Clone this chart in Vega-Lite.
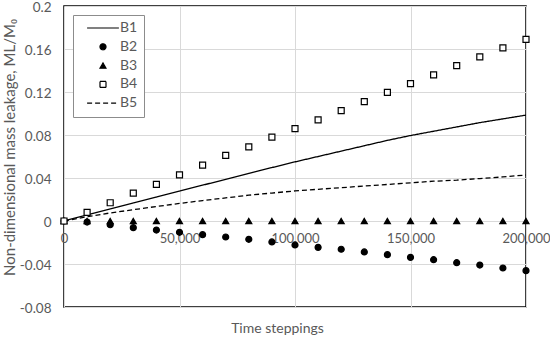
{
  "$schema": "https://vega.github.io/schema/vega-lite/v6.json",
  "width": 462,
  "height": 301,
  "autosize": "none",
  "padding": {"left": 64, "top": 6, "right": 24, "bottom": 30},
  "background": "white",
  "config": {
    "view": {"stroke": "black", "strokeWidth": 1.5},
    "font": "Lato",
    "axis": {"labelFont": "Lato", "titleFont": "Lato", "labelColor": "#595959", "titleColor": "#595959", "labelFontSize": 13.5, "titleFontSize": 14, "titleFontWeight": "normal", "gridColor": "#d9d9d9", "gridWidth": 1, "ticks": false, "domain": false},
    "legend": {"labelFont": "Lato", "labelFontSize": 14, "labelColor": "#595959", "title": null, "orient": "top-left", "offset": 9, "strokeColor": "#8c8c8c", "strokeWidth": 1, "padding": 6, "rowPadding": 4.8, "symbolOffset": 17, "labelOffset": 10, "symbolStrokeColor": "black", "symbolStrokeWidth": 1.2, "symbolSize": 36, "fillColor": "white"}
  },
  "data": {"values": [
    {"s":"B1","t":0,"v":0},{"s":"B1","t":10000,"v":0.0056},{"s":"B1","t":20000,"v":0.0112},{"s":"B1","t":30000,"v":0.0168},{"s":"B1","t":40000,"v":0.0223},{"s":"B1","t":50000,"v":0.0278},{"s":"B1","t":60000,"v":0.0333},{"s":"B1","t":70000,"v":0.0388},{"s":"B1","t":80000,"v":0.0443},{"s":"B1","t":90000,"v":0.0497},{"s":"B1","t":100000,"v":0.055},{"s":"B1","t":110000,"v":0.06},{"s":"B1","t":120000,"v":0.065},{"s":"B1","t":130000,"v":0.07},{"s":"B1","t":140000,"v":0.075},{"s":"B1","t":150000,"v":0.0795},{"s":"B1","t":160000,"v":0.0835},{"s":"B1","t":170000,"v":0.0875},{"s":"B1","t":180000,"v":0.0915},{"s":"B1","t":190000,"v":0.095},{"s":"B1","t":200000,"v":0.0985},
    {"s":"B5","t":0,"v":0},{"s":"B5","t":10000,"v":0.004},{"s":"B5","t":20000,"v":0.0075},{"s":"B5","t":30000,"v":0.0105},{"s":"B5","t":40000,"v":0.0135},{"s":"B5","t":50000,"v":0.0163},{"s":"B5","t":60000,"v":0.019},{"s":"B5","t":70000,"v":0.0215},{"s":"B5","t":80000,"v":0.024},{"s":"B5","t":90000,"v":0.026},{"s":"B5","t":100000,"v":0.028},{"s":"B5","t":110000,"v":0.0295},{"s":"B5","t":120000,"v":0.031},{"s":"B5","t":130000,"v":0.0325},{"s":"B5","t":140000,"v":0.034},{"s":"B5","t":150000,"v":0.0355},{"s":"B5","t":160000,"v":0.037},{"s":"B5","t":170000,"v":0.038},{"s":"B5","t":180000,"v":0.0395},{"s":"B5","t":190000,"v":0.041},{"s":"B5","t":200000,"v":0.0428},
    {"s":"B2","t":0,"v":0},{"s":"B2","t":10000,"v":-0.001},{"s":"B2","t":20000,"v":-0.0035},{"s":"B2","t":30000,"v":-0.0062},{"s":"B2","t":40000,"v":-0.0084},{"s":"B2","t":50000,"v":-0.0105},{"s":"B2","t":60000,"v":-0.0127},{"s":"B2","t":70000,"v":-0.0149},{"s":"B2","t":80000,"v":-0.017},{"s":"B2","t":90000,"v":-0.0195},{"s":"B2","t":100000,"v":-0.0223},{"s":"B2","t":110000,"v":-0.0245},{"s":"B2","t":120000,"v":-0.0263},{"s":"B2","t":130000,"v":-0.0288},{"s":"B2","t":140000,"v":-0.0313},{"s":"B2","t":150000,"v":-0.0338},{"s":"B2","t":160000,"v":-0.036},{"s":"B2","t":170000,"v":-0.0388},{"s":"B2","t":180000,"v":-0.041},{"s":"B2","t":190000,"v":-0.0437},{"s":"B2","t":200000,"v":-0.0462},
    {"s":"B3","t":0,"v":0},{"s":"B3","t":10000,"v":0},{"s":"B3","t":20000,"v":0},{"s":"B3","t":30000,"v":0},{"s":"B3","t":40000,"v":0},{"s":"B3","t":50000,"v":0},{"s":"B3","t":60000,"v":0},{"s":"B3","t":70000,"v":0},{"s":"B3","t":80000,"v":0},{"s":"B3","t":90000,"v":0},{"s":"B3","t":100000,"v":0},{"s":"B3","t":110000,"v":0},{"s":"B3","t":120000,"v":0},{"s":"B3","t":130000,"v":0},{"s":"B3","t":140000,"v":0},{"s":"B3","t":150000,"v":0},{"s":"B3","t":160000,"v":0},{"s":"B3","t":170000,"v":0},{"s":"B3","t":180000,"v":0},{"s":"B3","t":190000,"v":0},{"s":"B3","t":200000,"v":0},
    {"s":"B4","t":0,"v":0},{"s":"B4","t":10000,"v":0.008},{"s":"B4","t":20000,"v":0.017},{"s":"B4","t":30000,"v":0.026},{"s":"B4","t":40000,"v":0.034},{"s":"B4","t":50000,"v":0.043},{"s":"B4","t":60000,"v":0.052},{"s":"B4","t":70000,"v":0.061},{"s":"B4","t":80000,"v":0.069},{"s":"B4","t":90000,"v":0.078},{"s":"B4","t":100000,"v":0.086},{"s":"B4","t":110000,"v":0.094},{"s":"B4","t":120000,"v":0.1026},{"s":"B4","t":130000,"v":0.111},{"s":"B4","t":140000,"v":0.1197},{"s":"B4","t":150000,"v":0.1277},{"s":"B4","t":160000,"v":0.136},{"s":"B4","t":170000,"v":0.1445},{"s":"B4","t":180000,"v":0.1526},{"s":"B4","t":190000,"v":0.161},{"s":"B4","t":200000,"v":0.169}
  ]},
  "encoding": {
    "x": {"field": "t", "type": "quantitative", "scale": {"domain": [0, 200000], "nice": false, "zero": false},
      "axis": {"values": [0, 50000, 100000, 150000, 200000], "labelExpr": "format(datum.value, ',')", "labelFontSize": 13, "offset": -86, "labelPadding": 11, "labelFlush": false, "title": "Time steppings", "titleX": 213, "titleY": 107, "titleBaseline": "middle", "titleAlign": "center"}},
    "y": {"field": "v", "type": "quantitative", "scale": {"domain": [-0.08, 0.2], "nice": false, "zero": false},
      "axis": {"values": [-0.08, -0.04, 0, 0.04, 0.08, 0.12, 0.16, 0.2], "labelExpr": "replace(format(datum.value, '.2~f'), '−', '-')", "labelPadding": 13, "labelOffset": 1.5, "title": "Non-dimensional mass leakage, ML/M₀", "titleFontSize": 15, "titleX": -55, "titleY": 141, "titleBaseline": "middle", "titleAlign": "center", "titleAngle": -90}}
  },
  "layer": [
    {
      "transform": [{"filter": "datum.s === 'B1' || datum.s === 'B5'"}],
      "mark": {"type": "line", "stroke": "black", "strokeWidth": 1.3},
      "encoding": {
        "strokeDash": {"field": "s", "type": "nominal", "scale": {"domain": ["B1", "B2", "B3", "B4", "B5"], "range": [[1, 0], [1, 0], [1, 0], [1, 0], [5, 3]]},
          "legend": {"encode": {"symbols": {"update": {"stroke": {"value": "black"}, "strokeWidth": {"value": 1.2}}}}}}
      }
    },
    {
      "transform": [{"filter": "datum.s === 'B2' || datum.s === 'B3' || datum.s === 'B4'"}],
      "mark": {"type": "point", "stroke": "black", "strokeWidth": 1.2, "size": 36, "opacity": 1},
      "encoding": {
        "shape": {"field": "s", "type": "nominal", "scale": {"domain": ["B1", "B2", "B3", "B4", "B5"], "range": ["M-5.3,0H5.3", "circle", "triangle-up", "square", "M-5.3,0H5.3"]},
          "legend": {"encode": {"symbols": {"update": {"stroke": {"value": "black"}, "strokeWidth": {"value": 1.2}}}}}},
        "fill": {"field": "s", "type": "nominal", "scale": {"domain": ["B1", "B2", "B3", "B4", "B5"], "range": ["black", "black", "black", "white", "black"]},
          "legend": {"encode": {"symbols": {"update": {"stroke": {"value": "black"}, "strokeWidth": {"value": 1.2}}}}}}
      }
    }
  ]
}
